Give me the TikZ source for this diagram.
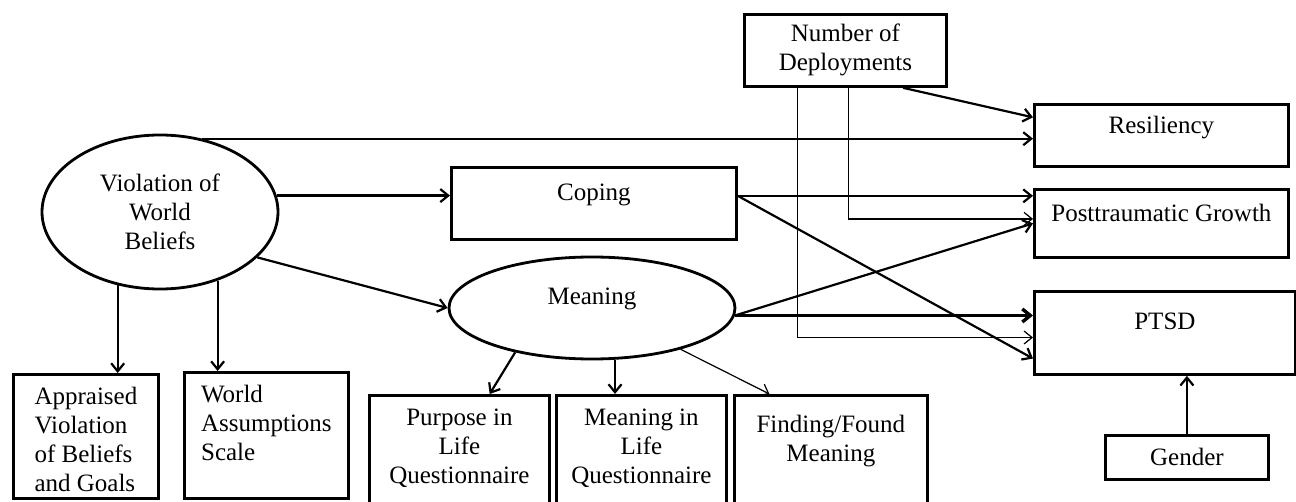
\documentclass[tikz,border=0pt]{standalone}
\usepackage{fontspec}
\setmainfont{Liberation Serif}
\usetikzlibrary{shapes.geometric,arrows.meta}

\begin{document}
\begin{tikzpicture}[x=0.5pt,y=-0.5pt,
	box/.style={draw, line width=1.4pt, inner sep=0pt, anchor=north west, align=center, font=\fontsize{12.5}{14.5}\selectfont},
	oval/.style={draw, ellipse, line width=1.4pt, inner sep=0pt, align=center, font=\fontsize{12.5}{14.5}\selectfont},
	arr/.style={-{Straight Barb[length=4pt,width=6.5pt]}, line width=1.1pt},
	thinline/.style={line width=0.6pt}]
				\path[use as bounding box, fill=white] (0,0) rectangle (1296,502);
				%%%nodes
				%latent
				\node[oval, minimum width=118pt, minimum height=77pt] at (160,212) (viol){Violation of\\World\\Beliefs};
				\node[oval, minimum width=143pt, minimum height=51pt, text height=8pt, text depth=11pt] at (592,308) (meaning){Meaning};
				\node[box, minimum width=142.5pt, text height=16.5pt, text depth=19.5pt] at (450,166) (coping){Coping};
				%indicators
				\node[box, align=left, minimum width=72.5pt, text height=58.5pt, text depth=3.5pt] at (12,373) (appr){Appraised\\Violation\\of Beliefs\\and Goals};
				\node[box, align=left, minimum width=82pt, text height=44pt, text depth=19pt] at (183,371) (was){World\\Assumptions\\Scale};
				\node[box, minimum width=90pt, text height=44pt, text depth=14pt] at (368,394) (pil){Purpose in\\Life\\Questionnaire};
				\node[box, minimum width=85pt, text height=44pt, text depth=14pt] at (555,394) (mlq){Meaning in\\Life\\Questionnaire};
				\node[box, minimum width=96.5pt, text height=33pt, text depth=25pt] at (733,394) (ffm){Finding/Found\\Meaning};
				%covariates
				\node[box, minimum width=101pt, text height=28pt, text depth=8pt] at (743,13) (nod){Number of\\Deployments};
				\node[box, minimum width=81.5pt, text height=15pt, text depth=7pt] at (1104,434) (gender){Gender};
				%outcomes
				\node[box, minimum width=127pt, text height=14.5pt, text depth=16.5pt] at (1033,103) (resil){Resiliency};
				\node[box, minimum width=127pt, text height=16pt, text depth=18pt] at (1033,188) (ptg){Posttraumatic Growth};
				\node[box, minimum width=130.5pt, text height=19pt, text depth=22.5pt] at (1033,290) (ptsd){PTSD};
				%%%links
				%violation
				\draw[arr] (viol.60) -- (viol.60 -| resil.west);
				\draw[arr] (viol.8) -- (viol.8 -| coping.west);
				\draw[arr] (viol.-25) -- (meaning.west);
				\draw[arr] (viol.240) -- (viol.240 |- appr.north);
				\draw[arr] (viol.310) -- (viol.310 |- was.north);
				%meaning measures
				\draw[arr] (meaning.210) -- (pil.63);
				\draw[arr] (meaning.-66) -- (meaning.-66 |- mlq.north);
				\draw[arr, thinline] (meaning.-25) -- (ffm.136);
				%to outcomes
				\draw[arr] (coping.3) -- (coping.3 -| ptg.west);
				\draw[arr] (coping.3) -- (ptsd.191);
				\draw[arr] (meaning.-3) -- (ptg.west);
				\draw[arr, line width=1.7pt] (meaning.-3) -- (meaning.-3 -| ptsd.west);
				%deployments
				\draw[arr] (nod.-33) -- (resil.172);
				\draw[arr, thinline] (nod.218) |- (ptsd.182);
				\draw[arr, thinline] (nod.275) |- (ptg.178);
				%gender
				\draw[arr] (gender.north) -- (gender.north |- ptsd.south);
\end{tikzpicture}
\end{document}
